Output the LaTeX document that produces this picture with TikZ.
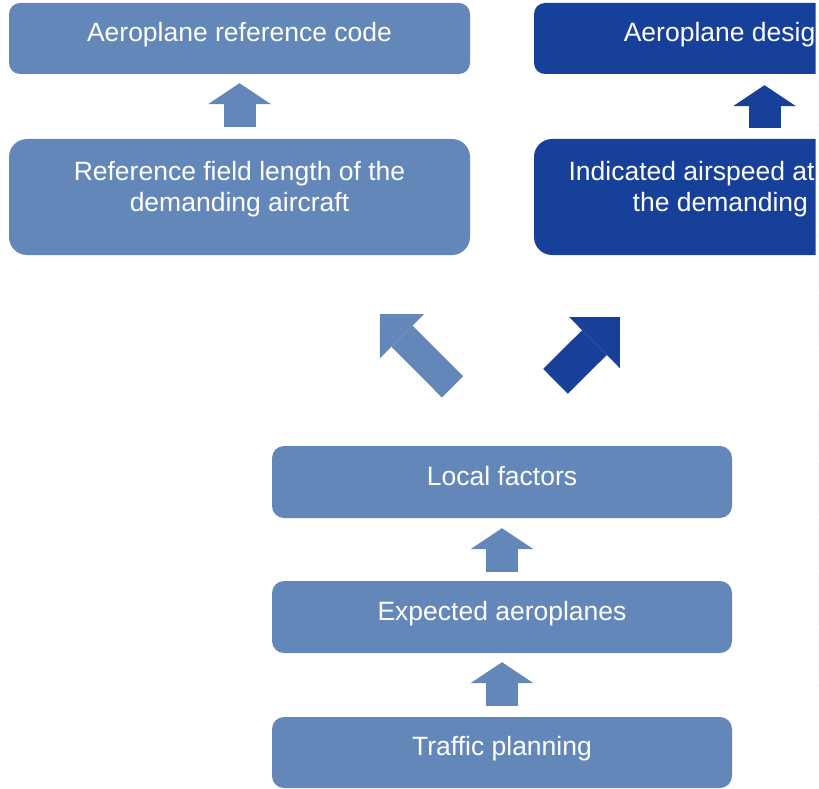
\documentclass[tikz,border=0pt]{standalone}
\usepackage{fontspec}
\setmainfont{Liberation Sans}
\usetikzlibrary{arrows.meta}
\definecolor{paleblue}{HTML}{6487BA}
\definecolor{deepblue}{HTML}{17409A}
\colorlet{rule}{black!12!blue!4}
\tikzset{
  box/.style = {fill=paleblue, text=white, inner sep=0pt, align=center,
    font=\fontsize{26.5}{31}\selectfont, rounded corners=12pt,
    minimum width=460pt, minimum height=72pt, text height=19.4pt, text depth=13pt},
  tallbox/.style = {box, rounded corners=18pt, minimum width=461pt,
    minimum height=116pt, text height=50.4pt, text depth=22.4pt},
  fat/.style = {draw=#1, line width=32pt,
    -{Triangle[length=21pt,width=63pt,line width=0pt]}},
  fat/.default = paleblue
}

\begin{document}
\begin{tikzpicture}[x=1pt,y=-1pt]
  \useasboundingbox (0,0) rectangle (819,789);
  \node[box, rounded corners=11pt, minimum width=461pt, minimum height=71pt] (ref) at (239.5,38.5) {Aeroplane reference code};
  \node[tallbox] (field) at (239.5,197) {Reference field length of the\\demanding aircraft};
  \begin{scope}
    \clip (0,0) rectangle (815.7,789);
    \node[box, fill=deepblue, rounded corners=11pt, minimum width=461pt, minimum height=71pt] (group) at (764.5,38.5) {Aeroplane design group};
    \node[tallbox, fill=deepblue] (speed) at (764.5,197) {Indicated airspeed at threshold of\\the demanding aircraft};
  \end{scope}
  \node[box] (local) at (502,482) {Local factors};
  \node[box] (expected) at (502,617) {Expected aeroplanes};
  \node[box, minimum height=71pt] (traffic) at (502,752.5) {Traffic planning};

  \draw[fat] ([yshift=12pt]field.north) -- ([yshift=-9pt]ref.south);
  \draw[fat=deepblue] ([yshift=11pt]speed.north) -- ([yshift=-11pt]group.south);
  \draw[fat] ([yshift=9pt]expected.north) -- ([yshift=-10pt]local.south);
  \draw[fat] ([yshift=11pt]traffic.north) -- ([yshift=-9pt]expected.south);
  \draw[draw=paleblue, line width=30pt, -{Triangle[length=31pt,width=62pt,line width=0pt]}]
    ([shift={(-49.5pt,59pt)}]local.north) -- ([shift={(140.5pt,-59pt)}]field.south);
  \draw[draw=deepblue, line width=35pt, -{Triangle[length=36pt,width=72pt,line width=0pt]}]
    ([shift={(53.5pt,64.5pt)}]local.north) -- ([shift={(-144.5pt,-62pt)}]speed.south);

  % faint border at the cut edge
  \draw[rule, line width=1pt, dash pattern=on 52pt off 3pt] (818,20) -- (818,350) (818,408) -- (818,687);
\end{tikzpicture}
\end{document}
